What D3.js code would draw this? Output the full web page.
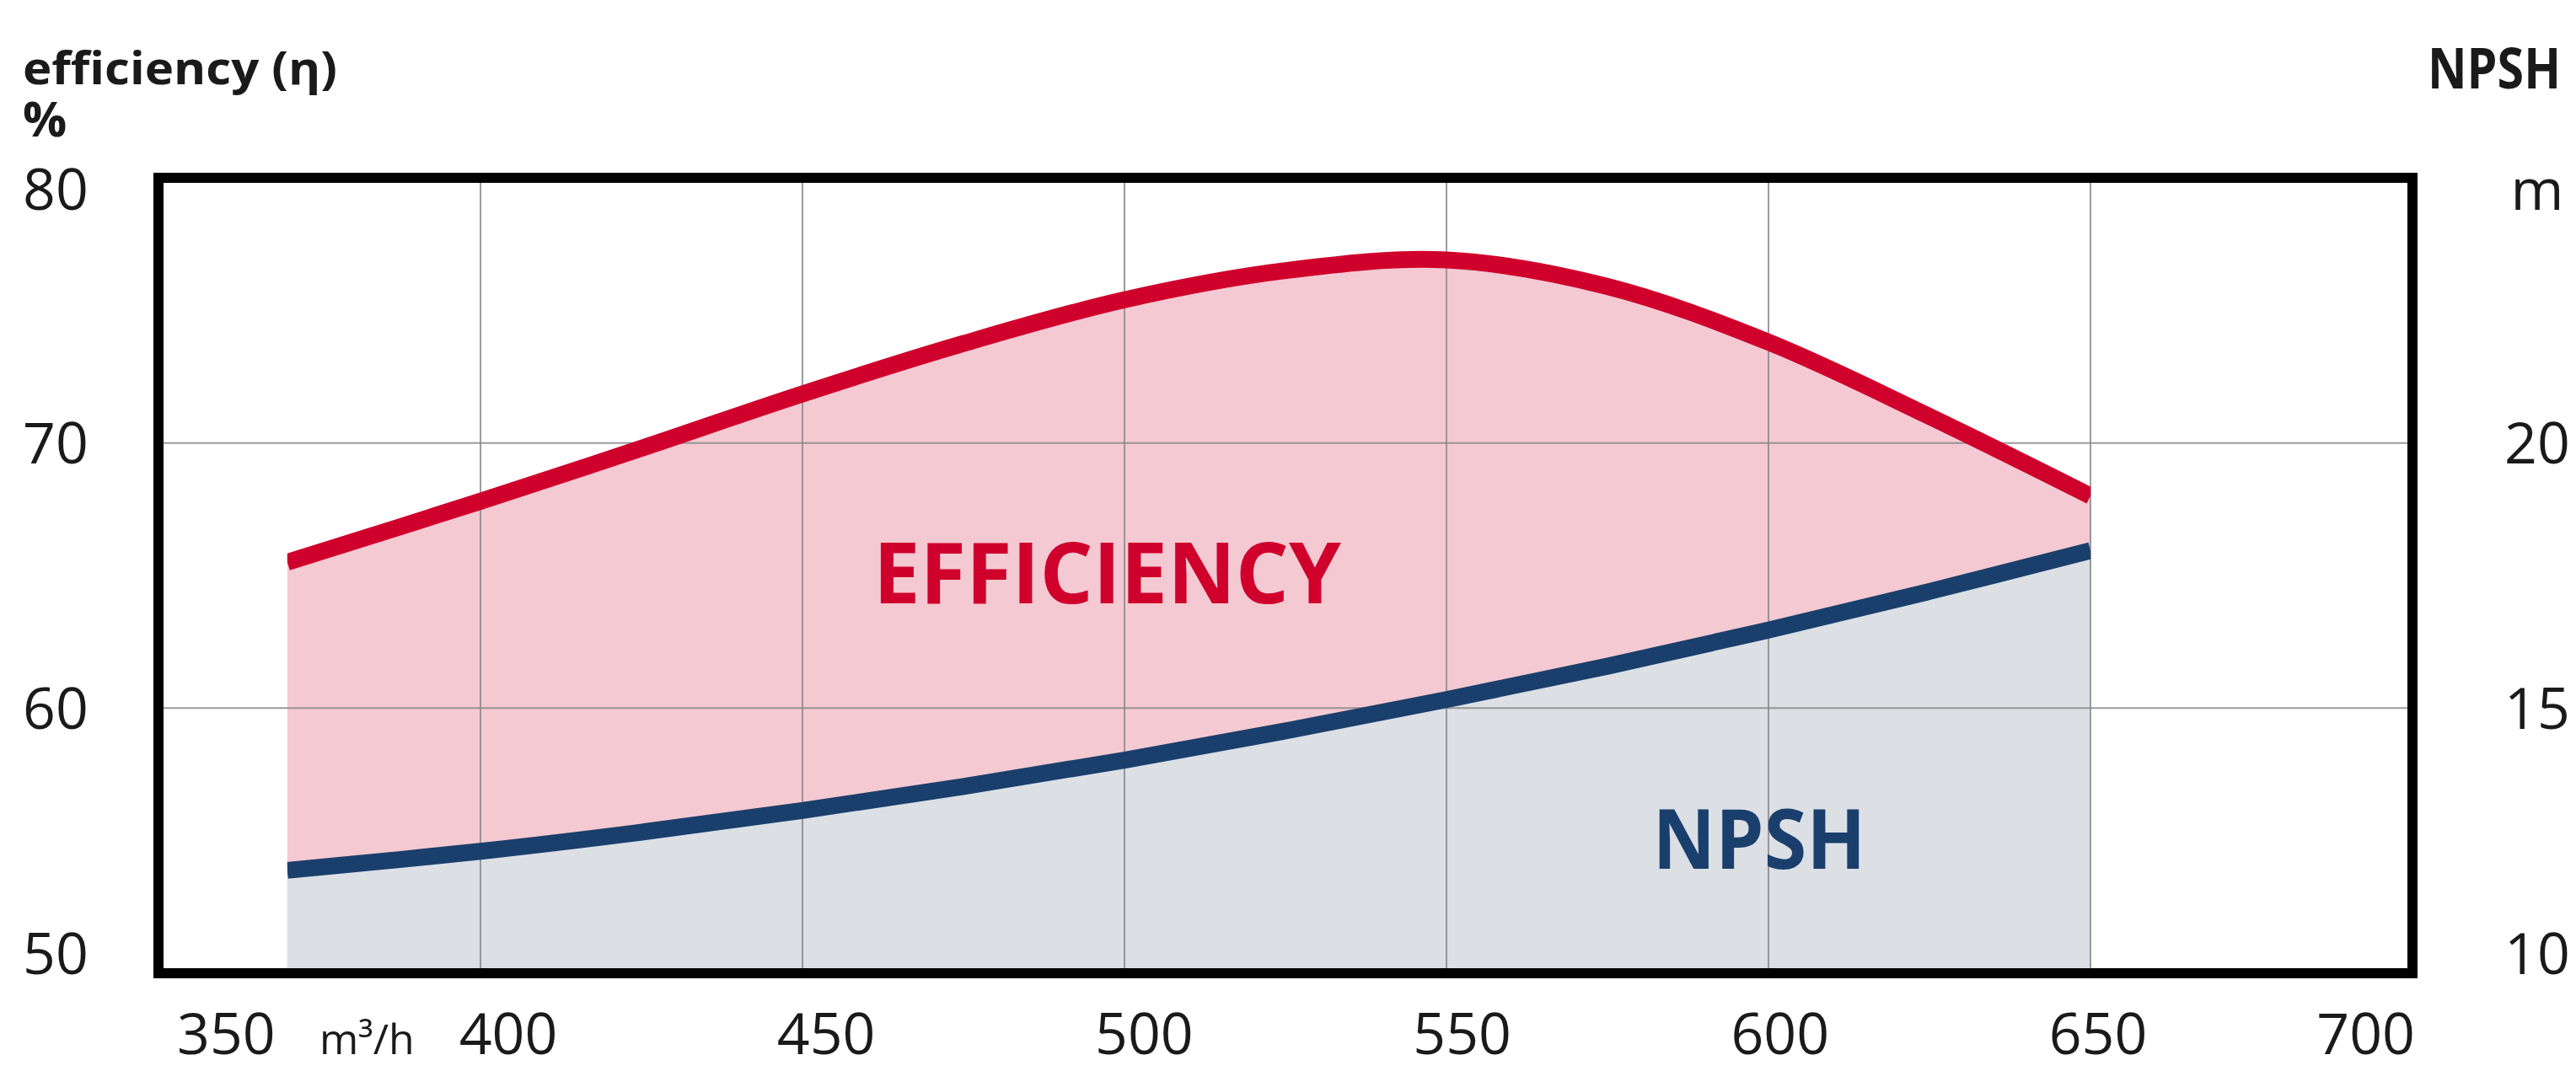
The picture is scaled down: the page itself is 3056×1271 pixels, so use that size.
<!DOCTYPE html>
<html>
<head>
<meta charset="utf-8">
<script src="https://cdn.jsdelivr.net/npm/d3@7/dist/d3.min.js"></script>
<style>
  html, body { margin: 0; padding: 0; background: #ffffff; }
  svg { display: block; }
  text { font-family: "Open Sans", "Noto Sans", sans-serif; }
</style>
</head>
<body>
<svg id="chart" width="3056" height="1271"></svg>
<script>
// Flow rate (m³/h) at which both curves are sampled
const flow = [370, 400, 425, 450, 475, 500, 525, 550, 575, 600, 625, 650];
// Pump efficiency, %
const efficiency = [65.5, 67.8, 69.8, 71.85, 73.75, 75.4, 76.5, 76.9, 75.9, 73.8, 71.0, 68.0];
// Net positive suction head required, m
const npsh = [11.94, 12.30, 12.66, 13.07, 13.52, 14.02, 14.57, 15.16, 15.79, 16.47, 17.20, 17.97];

// Axis ticks
const flowTicks = [350, 400, 450, 500, 550, 600, 650, 700];
const effTicks = [50, 60, 70, 80];
const npshTicks = [10, 15, 20];
const npshTopLabel = "m";
const flowUnit = "m³/h";

const svg = d3.select("#chart");
const W = 3056, H = 1271;
const plot = { left: 188, right: 2862, top: 211, bottom: 1155 };

const x = d3.scaleLinear().domain([350, 700]).range([plot.left, plot.right]);
const yEff = d3.scaleLinear().domain([50, 80]).range([plot.bottom, plot.top]);
const yNpsh = d3.scaleLinear().domain([10, 25]).range([plot.bottom, plot.top]);

const colors = {
  red: "#d0002c",
  pink: "#f4c9d2",
  navy: "#1b3f6d",
  grey: "#dcdfe4",
  grid: "#8a8a8a",
  text: "#1a1a1a"
};

svg.append("rect").attr("width", W).attr("height", H).attr("fill", "#ffffff");

const rows = flow.map((q, i) => ({ q, eff: efficiency[i], npsh: npsh[i] }));

// Clip the curves so both ends are cut vertically at the first/last flow sample
const defs = svg.append("defs");
defs.append("clipPath").attr("id", "curveClip")
  .append("rect")
  .attr("x", x(d3.min(flow))).attr("y", 0)
  .attr("width", x(d3.max(flow)) - x(d3.min(flow)))
  .attr("height", H);

const curve = d3.curveCatmullRom.alpha(0.5);
const g = svg.append("g");

// Efficiency band (pink) down to the base, NPSH band (grey) on top of it
g.append("path")
  .datum(rows)
  .attr("fill", colors.pink)
  .attr("d", d3.area().curve(curve).x(d => x(d.q)).y0(yEff(50)).y1(d => yEff(d.eff)));

g.append("path")
  .datum(rows)
  .attr("fill", colors.grey)
  .attr("d", d3.area().curve(curve).x(d => x(d.q)).y0(yEff(50)).y1(d => yNpsh(d.npsh)));

// Grid
const gridX = flowTicks.slice(1, -1);
g.selectAll("line.gx").data(gridX).join("line")
  .attr("x1", d => x(d)).attr("x2", d => x(d))
  .attr("y1", plot.top).attr("y2", plot.bottom)
  .attr("stroke", colors.grid).attr("stroke-width", 2).attr("stroke-opacity", 0.85);

const gridY = effTicks.slice(1, -1);
g.selectAll("line.gy").data(gridY).join("line")
  .attr("y1", d => yEff(d)).attr("y2", d => yEff(d))
  .attr("x1", plot.left).attr("x2", plot.right)
  .attr("stroke", colors.grid).attr("stroke-width", 2).attr("stroke-opacity", 0.85);

// Curves
const curves = g.append("g").attr("clip-path", "url(#curveClip)");
curves.append("path")
  .datum(rows)
  .attr("fill", "none")
  .attr("stroke", colors.navy)
  .attr("stroke-width", 20)
  .attr("d", d3.line().curve(curve).x(d => x(d.q)).y(d => yNpsh(d.npsh)));

curves.append("path")
  .datum(rows)
  .attr("fill", "none")
  .attr("stroke", colors.red)
  .attr("stroke-width", 20)
  .attr("d", d3.line().curve(curve).x(d => x(d.q)).y(d => yEff(d.eff)));

// Frame
svg.append("rect")
  .attr("x", plot.left).attr("y", plot.top)
  .attr("width", plot.right - plot.left).attr("height", plot.bottom - plot.top)
  .attr("fill", "none").attr("stroke", "#000").attr("stroke-width", 12);

// Curve names inside the plot
svg.append("text")
  .attr("x", x(461)).attr("y", yEff(63.95))
  .attr("font-size", 100).attr("font-weight", 700)
  .attr("fill", colors.red)
  .attr("textLength", 555).attr("lengthAdjust", "spacingAndGlyphs")
  .text("EFFICIENCY");

svg.append("text")
  .attr("x", x(582)).attr("y", yEff(53.94))
  .attr("font-size", 98).attr("font-weight", 700)
  .attr("fill", colors.navy)
  .attr("textLength", 253).attr("lengthAdjust", "spacingAndGlyphs")
  .text("NPSH");

// Tick labels: the outermost ones are pulled slightly inside the frame
const tickFont = 68;
const labelY = v => Math.max(plot.top + 14, Math.min(plot.bottom - 23, v));

svg.selectAll("text.effTick").data(effTicks).join("text")
  .attr("x", 27)
  .attr("y", d => labelY(yEff(d)))
  .attr("dy", "0.36em")
  .attr("font-size", tickFont).attr("fill", colors.text)
  .text(d => d);

const rightTicks = npshTicks.map(v => ({ v, label: String(v) }))
  .concat([{ v: 25, label: npshTopLabel }]);
svg.selectAll("text.npshTick").data(rightTicks).join("text")
  .attr("x", 3010)
  .attr("y", d => labelY(yNpsh(d.v)))
  .attr("dy", "0.36em")
  .attr("text-anchor", "middle")
  .attr("font-size", tickFont).attr("fill", colors.text)
  .text(d => d.label);

// Flow labels sit a little right of their grid lines; ends align to the frame
const xLabel = d3.scaleLinear().domain([400, 650]).range([x(400) + 33, x(650) + 9]);
const baseY = 1251;
svg.selectAll("text.flowTick").data(flowTicks).join("text")
  .attr("x", (d, i) => i === 0 ? x(d) + 22 : i === flowTicks.length - 1 ? x(d) + 3 : xLabel(d))
  .attr("y", baseY)
  .attr("text-anchor", (d, i) => i === 0 ? "start" : i === flowTicks.length - 1 ? "end" : "middle")
  .attr("font-size", tickFont).attr("fill", colors.text)
  .text(d => d);

svg.append("text")
  .attr("x", x(375)).attr("y", baseY)
  .attr("font-size", 50).attr("fill", colors.text)
  .text(flowUnit);

// Axis titles
svg.append("text")
  .attr("x", 27).attr("y", 100)
  .attr("font-size", 54).attr("font-weight", 700).attr("fill", colors.text)
  .attr("textLength", 373).attr("lengthAdjust", "spacingAndGlyphs")
  .text("efficiency (η)");

svg.append("text")
  .attr("x", 27).attr("y", 162)
  .attr("font-size", 58).attr("font-weight", 700).attr("fill", colors.text)
  .text("%");

svg.append("text")
  .attr("x", 2880).attr("y", 105)
  .attr("font-size", 66).attr("font-weight", 700).attr("fill", colors.text)
  .attr("textLength", 158).attr("lengthAdjust", "spacingAndGlyphs")
  .text("NPSH");
</script>
</body>
</html>
